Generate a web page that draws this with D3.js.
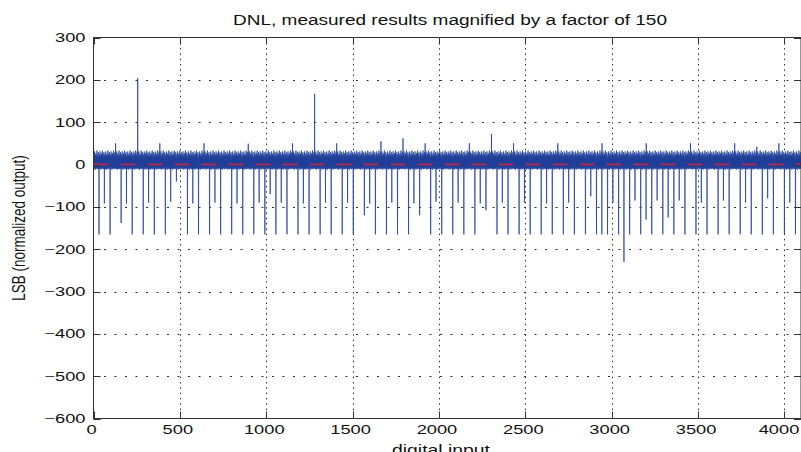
<!DOCTYPE html>
<html>
<head>
<meta charset="utf-8">
<script src="https://cdn.jsdelivr.net/npm/d3@7"></script>
<style>
  body { margin: 0; background: #fff; }
  text { font-family: "Liberation Sans", Arial, Helvetica, sans-serif; fill: #111; }
</style>
</head>
<body>
<svg id="chart" width="801" height="452"></svg>
<script>
// ---- values (DNL in LSB, magnified x150) ----
var codeCount = 4096;
var xTicks = [0, 500, 1000, 1500, 2000, 2500, 3000, 3500, 4000];
var yTicks = [-600, -500, -400, -300, -200, -100, 0, 100, 200, 300];

// ordinary codes: the thick band round zero, repeats along the input range
var bandPattern = [20, -9, 24, -6, 15, -11, 31, -4, 18, -8, 22, -12, 13, -5, 27, -9,
                   21, -7, 16, -10, 33, -6, 19, -11, 23, -4, 14, -8, 29, -10, 17, -7];

// deep negative spikes at codes 32, 96, 160 ... (every 64)
var lowSpikes = [-165, -165, -138, -165, -165, -165, -165, -40,
                 -165, -165, -165, -165, -165, -165, -165, -165,
                 -165, -165, -165, -165, -165, -165, -165, -165,
                 -120, -165, -165, -165, -165, -120, -165, -165,
                 -165, -165, -165, -108, -165, -165, -165, -165,
                 -165, -165, -165, -165, -165, -165, -165, -165,
                 -165, -165, -165, -165, -165, -165, -165, -165,
                 -165, -165, -165, -165, -165, -165, -165, -165];

// medium negative spikes just before codes 64, 128, 192 ... (null = stays in band)
var midSpikes = [-92, null, -92, null, -90, null, -88, null, -92, null, -90, null, -92, null, -90, -70,
                 -90, null, -92, null, -90, null, -90, null, -92, null, -90, null, -92, null, -88, null,
                 -90, null, -92, null, -90, null, -90, null, -92, null, -90, null, -75, -165, -90, -230,
                 -85, -130, -85, -125, -85, null, -90, null, -85, null, -90, null, -80, null, -90];

// small positive spikes at codes 128, 384, 640 ... (every 256)
var highSpikes = [50, 50, 50, 49, 50, 50, 55, 50, 50, 50, 50, 50, 50, 50, 50, 50];

// the few big positive outliers
var bigSpikeCodes = [256, 1280, 1792, 2304, 3840];
var bigSpikeVals = [204, 167, 62, 72, 42];

var refLevel = [0];

// ---- build the series ----
var dnl = d3.range(codeCount).map(function(c) {
    return { code: c, value: bandPattern[c % bandPattern.length] };
});
lowSpikes.forEach(function(v, i) { dnl[32 + 64 * i].value = v; });
midSpikes.forEach(function(v, i) { if (v !== null) dnl[64 * (i + 1) - 1].value = v; });
highSpikes.forEach(function(v, i) { dnl[128 + 256 * i].value = v; });
bigSpikeCodes.forEach(function(c, i) { dnl[c].value = bigSpikeVals[i]; });

// ---- layout ----
var plotL = 93.5, plotR = 801, plotT = 37.5, plotB = 418.5;
var stretch = 1.45;   // the picture's lettering is wide

var x = d3.scaleLinear().domain([0, codeCount]).range([plotL, plotR]);
var y = d3.scaleLinear().domain([-600, 300]).range([plotB, plotT]);

var svg = d3.select("#chart");

svg.append("defs").append("clipPath").attr("id", "plotClip")
   .append("rect")
   .attr("x", plotL).attr("y", plotT)
   .attr("width", plotR - plotL).attr("height", plotB - plotT);

// grid
svg.append("g").selectAll("line")
   .data(yTicks.slice(1, -1))
   .enter().append("line")
   .attr("x1", plotL).attr("x2", plotR)
   .attr("y1", function(d) { return Math.round(y(d)) + 0.5; })
   .attr("y2", function(d) { return Math.round(y(d)) + 0.5; })
   .attr("stroke", "#333").attr("stroke-width", 1)
   .attr("stroke-dasharray", "2,8.5");

svg.append("g").selectAll("line")
   .data(xTicks.slice(1))
   .enter().append("line")
   .attr("x1", function(d) { return Math.round(x(d)) + 0.5; })
   .attr("x2", function(d) { return Math.round(x(d)) + 0.5; })
   .attr("y1", plotT).attr("y2", plotB)
   .attr("stroke", "#333").attr("stroke-width", 1)
   .attr("stroke-dasharray", "1.5,3.8");

// data line
var line = d3.line()
   .x(function(d) { return x(d.code); })
   .y(function(d) { return y(d.value); });

svg.append("path")
   .datum(dnl)
   .attr("clip-path", "url(#plotClip)")
   .attr("d", line)
   .attr("fill", "none")
   .attr("stroke", "#22409a")
   .attr("stroke-width", 0.75);

// red dashed zero line
svg.append("g").selectAll("line")
   .data(refLevel)
   .enter().append("line")
   .attr("x1", x(0)).attr("x2", x(codeCount))
   .attr("y1", function(d) { return y(d); })
   .attr("y2", function(d) { return y(d); })
   .attr("stroke", "#a82c55").attr("stroke-width", 1.8)
   .attr("stroke-dasharray", "15,12");

// box + inward ticks on all four sides
svg.append("rect")
   .attr("x", plotL).attr("y", plotT)
   .attr("width", plotR - plotL).attr("height", plotB - plotT)
   .attr("fill", "none").attr("stroke", "#333").attr("stroke-width", 1);

var tickLen = 7;
var tickG = svg.append("g").attr("stroke", "#333").attr("stroke-width", 1);
yTicks.forEach(function(t) {
    var yp = Math.round(y(t)) + 0.5;
    tickG.append("line").attr("x1", plotL).attr("x2", plotL + tickLen)
        .attr("y1", yp).attr("y2", yp);
    tickG.append("line").attr("x1", plotR - tickLen).attr("x2", plotR)
        .attr("y1", yp).attr("y2", yp);
});
xTicks.forEach(function(t) {
    var xp = Math.round(x(t)) + 0.5;
    tickG.append("line").attr("x1", xp).attr("x2", xp)
        .attr("y1", plotB).attr("y2", plotB - tickLen);
    tickG.append("line").attr("x1", xp).attr("x2", xp)
        .attr("y1", plotT).attr("y2", plotT + tickLen);
});

// tick labels
var fmt = d3.format("d");
svg.append("g").selectAll("text")
   .data(yTicks)
   .enter().append("text")
   .attr("transform", function(d) { return "translate(85.5," + (y(d) + 4.5) + ") scale(" + stretch + ",1)"; })
   .attr("text-anchor", "end")
   .style("font-size", "12.6px")
   .text(function(d) { return d < 0 ? "\u2212" + fmt(-d) : fmt(d); });

svg.append("g").selectAll("text")
   .data(xTicks)
   .enter().append("text")
   .attr("transform", function(d) {
       var xp = Math.min(x(d) - 2, 779);
       return "translate(" + xp + ",434) scale(" + stretch + ",1)";
   })
   .attr("text-anchor", "middle")
   .style("font-size", "12.6px")
   .text(function(d) { return fmt(d); });

// title and axis names
svg.append("text")
   .attr("x", 233).attr("y", 25)
   .attr("textLength", 434).attr("lengthAdjust", "spacingAndGlyphs")
   .style("font-size", "14px")
   .text("DNL, measured results magnified by a factor of 150");

svg.append("text")
   .attr("x", 392).attr("y", 455)
   .attr("textLength", 98).attr("lengthAdjust", "spacingAndGlyphs")
   .style("font-size", "14px")
   .text("digital input");

svg.append("text")
   .attr("transform", "translate(25," + ((plotT + plotB) / 2) + ") scale(1.3,1) rotate(-90)")
   .attr("text-anchor", "middle")
   .style("font-size", "13.5px")
   .text("LSB (normalized output)");
</script>
</body>
</html>
